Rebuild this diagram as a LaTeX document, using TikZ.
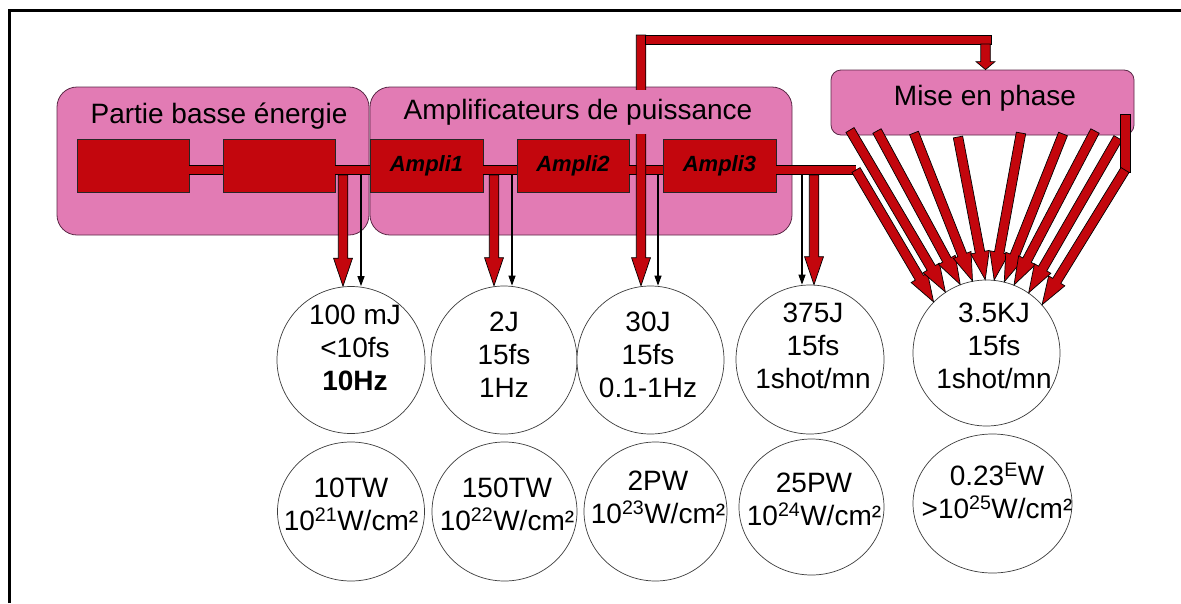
\documentclass[tikz,border=0pt]{standalone}
\usepackage{fontspec}
\setmainfont{Liberation Sans}
\usetikzlibrary{arrows.meta, calc, shapes.geometric}
\definecolor{boxpink}{RGB}{226,123,180}
\definecolor{boxedge}{RGB}{90,40,70}
\definecolor{laserred}{RGB}{195,6,13}
\definecolor{circedge}{RGB}{60,60,60}

\tikzset{
  pinkbox/.style={draw=boxedge, fill=boxpink, line width=0.8pt, rounded corners=20pt},
  redblock/.style={draw=black!85, fill=laserred, line width=0.8pt, minimum width=113pt,
                   minimum height=53pt, font=\fontsize{22}{26}\selectfont\bfseries\itshape},
  redshape/.style={draw=black, fill=laserred, line width=0.7pt, line join=miter},
  redpipe/.style={draw=black, line width=0.7pt, double=laserred, double distance=8.6pt},
  thinarrow/.style={-{Triangle[width=7pt,length=10pt]}, line width=1.1pt},
  shot/.style={ellipse, draw=circedge, fill=white, line width=0.7pt, inner sep=0pt},
  shottext/.style={font=\fontsize{28}{33}\selectfont, align=center, inner sep=0pt},
  boxtitle/.style={font=\fontsize{28}{33}\selectfont, fill=boxpink, inner sep=0pt}
}

% block arrow (outlined) from #2 to #3, head length #1
\newcommand{\bigarrow}[3][28]{%
  \path let \p1=(#2), \p2=(#3) in
    \pgfextra{\pgfmathsetmacro{\arrang}{atan2((\y2)-(\y1),(\x2)-(\x1))}%
      \pgfmathsetmacro{\arrlen}{veclen((\x2)-(\x1),(\y2)-(\y1))}%
      \xdef\arrang{\arrang}\xdef\arrlen{\arrlen}\xdef\arrhead{#1}};
  \draw[redshape, shift={(#2)}, rotate=\arrang]
    (0,-4.75) -- (\arrlen-\arrhead,-4.75) -- (\arrlen-\arrhead,-9.5) -- (\arrlen,0)
    -- (\arrlen-\arrhead,9.5) -- (\arrlen-\arrhead,4.75) -- (0,4.75) -- cycle;}

\begin{document}
\begin{tikzpicture}[x=1pt, y=-1pt]
  \useasboundingbox (0,0) rectangle (1181,603);
  % frame
  \draw[line width=3.8pt] (9.5,603) -- (9.5,10.5) -- (1181,10.5);

  % stages
  \node[pinkbox, minimum width=312pt, minimum height=148pt] (lowbox) at (213,161) {};
  \node[pinkbox, minimum width=422pt, minimum height=148pt] (ampbox) at (581,161) {};
  \node[pinkbox, rounded corners=10pt, minimum width=303pt, minimum height=65pt] (phase) at (982.5,102.5) {};

  % energy and power circles
  \foreach \nm/\x/\y/\w/\h in {e1/351/360/148/147, e2/504/360/146/148, e3/650.5/360/147/148,
      e4/810/359.5/148/149, e5/986.5/353/147/146, p1/351/511.5/147/139, p2/504.5/511.5/145/139,
      p3/655.5/511.5/143/139, p4/811.5/507/145/136, p5/992.5/503.5/159/139}
    \node[shot, minimum width=\w pt, minimum height=\h pt] (\nm) at (\x,\y) {};

  \node[shottext] (e1t) at (355,348) {100 mJ\\<10fs\\\textbf{10Hz}};
  \node[shottext] (e2t) at (504,355) {2J\\15fs\\1Hz};
  \node[shottext] (e3t) at (648,355) {30J\\15fs\\0.1-1Hz};
  \node[shottext] (e4t) at (813,346) {375J\\15fs\\1shot/mn};
  \node[shottext] (e5t) at (994,346) {3.5KJ\\15fs\\1shot/mn};
  \node[shottext] (p1t) at (351,504) {10TW\\10\textsuperscript{21}W/cm²};
  \node[shottext] (p2t) at (507,504) {150TW\\10\textsuperscript{22}W/cm²};
  \node[shottext] (p3t) at (658,497) {2PW\\10\textsuperscript{23}W/cm²};
  \node[shottext] (p4t) at (814,499) {25PW\\10\textsuperscript{24}W/cm²};
  \node[shottext] (p5t) at (997,491) {0.23\textsuperscript{E}W\\>10\textsuperscript{25}W/cm²};

  % laser chain
  \node[redblock, minimum width=112pt] (lowA) at (133,165.5) {};
  \node[redblock, minimum width=112pt] (lowB) at (279,165.5) {};
  \node[redblock] (amp1) at (426.5,165.5) {Ampli1};
  \node[redblock, minimum width=112pt] (amp2) at (573,165.5) {Ampli2};
  \node[redblock] (amp3) at (719.5,165.5) {Ampli3};
  \coordinate (fanstart) at (856,170);
  \draw[redpipe] ([yshift=-4.5pt]lowA.east) -- ([yshift=-4.5pt]lowB.west);
  \draw[redpipe] ([yshift=-4.5pt]lowB.east) -- ([yshift=-4.5pt]amp1.west);
  \draw[redpipe] ([yshift=-4.5pt]amp1.east) -- ([yshift=-4.5pt]amp2.west);
  \draw[redpipe] ([yshift=-4.5pt]amp2.east) -- ([yshift=-4.5pt]amp3.west);
  \draw[redpipe] ([yshift=-4.5pt]amp3.east) -- (fanstart);

  % outputs
  \foreach \nm/\x in {k1/361, k2/512, k3/658, k4/802} \coordinate (\nm) at (\x,174);
  \foreach \nm/\x in {r1/343, r2/494, r4/814} \coordinate (\nm) at (\x,175);
  \foreach \nm/\cc in {k1/e1, k2/e2, k3/e3, k4/e4} \draw[thinarrow] (\nm) -- (\nm |- \cc.north);
  \foreach \nm/\cc in {r1/e1, r2/e2, r4/e4} \bigarrow{\nm}{\nm |- \cc.north};

  % loop to phasing
  \coordinate (upjoin) at (641,35);
  \coordinate (topL) at (645.75,35);
  \coordinate (topR) at (991,44);
  \coordinate (phasein) at (985.5,44);
  \bigarrow{upjoin}{upjoin |- e3.north};
  \draw[redshape] (topL) rectangle (topR);
  \bigarrow[8]{phasein}{phasein |- phase.north};

  % fan of beams
  \foreach \nm/\x/\y in {f1/850/130, f2/877/131, f3/914/133, f4/958/137, f5/1021/133,
      f6/1063/134, f7/1095/131, f8/1118/138, f9/1125/170}
    \coordinate (\nm) at (\x,\y);
  \foreach \nm/\ang in {fanstart/136, f1/124, f2/111, f3/101, f4/91, f5/84, f6/76, f7/68, f8/55}
    \bigarrow{\nm}{e5.\ang};
  \coordinate (stubtop) at (1120,114);
  \coordinate (stubbot) at (1130,172);
  \draw[redshape] (stubtop) rectangle (stubbot);
  \bigarrow{f9}{e5.41};

  % titles
  \node[boxtitle, anchor=base] (lowtitle) at (219,123) {Partie basse énergie};
  \node[boxtitle, anchor=base, minimum height=44pt] (amptitle) at (578,119) {Amplificateurs de puissance};
  \node[boxtitle, anchor=base] (phasetitle) at (985,105) {Mise en phase};
\end{tikzpicture}
\end{document}
